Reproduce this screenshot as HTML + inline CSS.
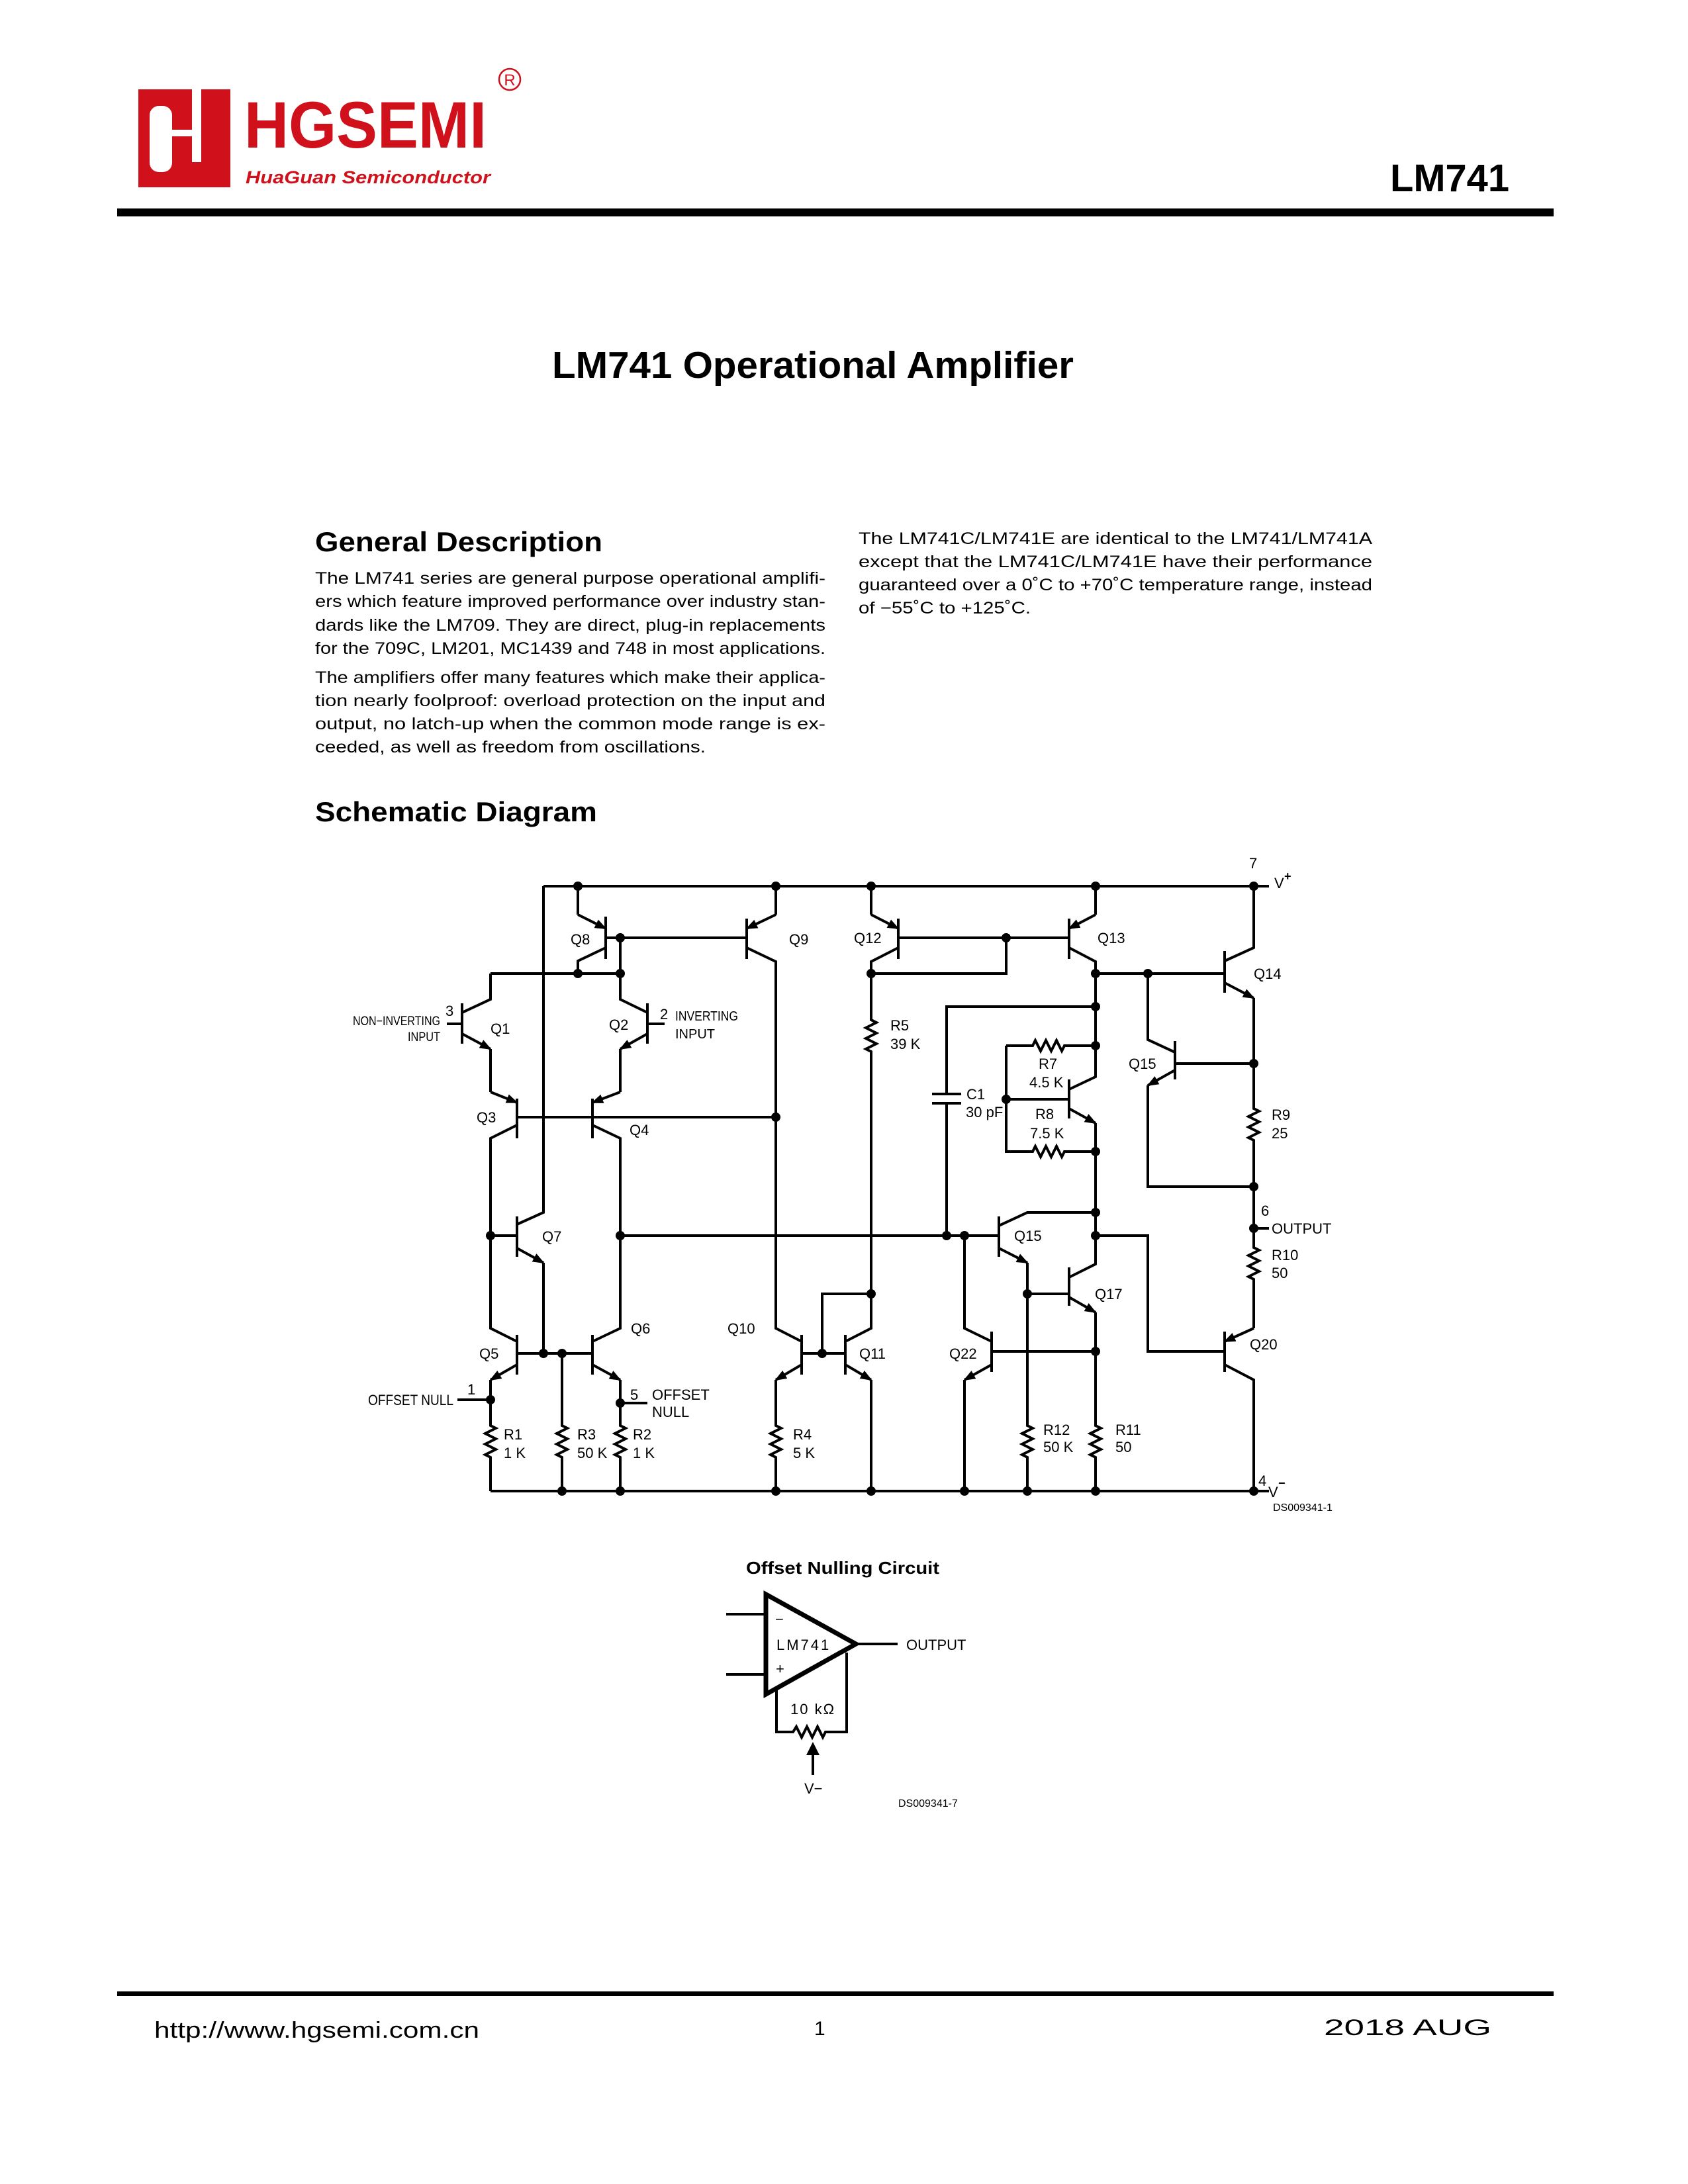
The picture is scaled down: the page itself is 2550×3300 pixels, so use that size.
<!DOCTYPE html>
<html><head><meta charset="utf-8"><style>
html,body{margin:0;padding:0;background:#fff;}
svg{display:block;}
</style></head><body>
<svg xmlns="http://www.w3.org/2000/svg" width="2550" height="3300" viewBox="0 0 2550 3300" font-family="Liberation Sans, Arial, sans-serif">
<defs>
<marker id="a" markerWidth="18" markerHeight="14" refX="16" refY="7" orient="auto" markerUnits="userSpaceOnUse"><path d="M0 0L18 7L0 14z" fill="#000"/></marker>
</defs>
<rect width="2550" height="3300" fill="#fff"/>

<!-- Header -->
<rect x="209" y="135" width="139" height="148" fill="#d0101a"/>
<rect x="226" y="160" width="34" height="100" rx="14" fill="#fff"/>
<rect x="260" y="160" width="22" height="100" fill="#d0101a"/>
<rect x="290" y="135" width="14" height="110" fill="#fff"/>
<rect x="245" y="196" width="50" height="10" fill="#fff"/>
<text x="369" y="223" font-size="99" font-weight="bold" fill="#d0101a" textLength="366" lengthAdjust="spacingAndGlyphs">HGSEMI</text>
<text x="371" y="277" font-size="27" font-weight="bold" font-style="italic" fill="#d0101a" textLength="370" lengthAdjust="spacingAndGlyphs">HuaGuan Semiconductor</text>
<circle cx="770" cy="120" r="16" fill="none" stroke="#d0101a" stroke-width="2.5"/>
<text x="770" y="129" font-size="24" fill="#d0101a" text-anchor="middle">R</text>
<text x="2100" y="289" font-size="58" font-weight="bold" textLength="180" lengthAdjust="spacingAndGlyphs">LM741</text>
<rect x="177" y="315" width="2170" height="12" fill="#000"/>

<text x="834" y="571" font-size="57" font-weight="bold" textLength="788" lengthAdjust="spacingAndGlyphs">LM741 Operational Amplifier</text>

<text x="476" y="833" font-size="42" font-weight="bold" textLength="434" lengthAdjust="spacingAndGlyphs">General Description</text>
<g font-size="25">
<text x="476" y="882" textLength="771" lengthAdjust="spacingAndGlyphs">The LM741 series are general purpose operational amplifi-</text>
<text x="476" y="917" textLength="771" lengthAdjust="spacingAndGlyphs">ers which feature improved performance over industry stan-</text>
<text x="476" y="953" textLength="771" lengthAdjust="spacingAndGlyphs">dards like the LM709. They are direct, plug-in replacements</text>
<text x="476" y="988" textLength="771" lengthAdjust="spacingAndGlyphs">for the 709C, LM201, MC1439 and 748 in most applications.</text>
<text x="476" y="1032" textLength="771" lengthAdjust="spacingAndGlyphs">The amplifiers offer many features which make their applica-</text>
<text x="476" y="1067" textLength="771" lengthAdjust="spacingAndGlyphs">tion nearly foolproof: overload protection on the input and</text>
<text x="476" y="1102" textLength="771" lengthAdjust="spacingAndGlyphs">output, no latch-up when the common mode range is ex-</text>
<text x="476" y="1137" textLength="590" lengthAdjust="spacingAndGlyphs">ceeded, as well as freedom from oscillations.</text>
<text x="1297" y="822" textLength="776" lengthAdjust="spacingAndGlyphs">The LM741C/LM741E are identical to the LM741/LM741A</text>
<text x="1297" y="857" textLength="776" lengthAdjust="spacingAndGlyphs">except that the LM741C/LM741E have their performance</text>
<text x="1297" y="892" textLength="776" lengthAdjust="spacingAndGlyphs">guaranteed over a 0˚C to +70˚C temperature range, instead</text>
<text x="1297" y="927" textLength="260" lengthAdjust="spacingAndGlyphs">of −55˚C to +125˚C.</text>
</g>
<text x="476" y="1241" font-size="42" font-weight="bold" textLength="426" lengthAdjust="spacingAndGlyphs">Schematic Diagram</text>

<!-- Schematic -->
<g fill="none" stroke="#000" stroke-width="4" stroke-linejoin="miter">
<path d="M821 1339H1917"/>
<path d="M821 1339V1832L781 1850"/>
<path d="M781 1838V1899"/>
<path d="M781 1886L821 1908" marker-end="url(#a)"/>
<path d="M821 1908V2045"/>
<path d="M741 1867H781"/>
<!-- Q8 -->
<path d="M873 1339V1382"/><path d="M873 1382L915 1403" marker-end="url(#a)"/>
<path d="M915 1385V1449"/><path d="M915 1432L873 1452V1471"/>
<path d="M915 1417H1128"/><path d="M937 1417V1471"/><path d="M741 1471H937"/>
<!-- Q9 -->
<path d="M1128 1388V1449"/><path d="M1172 1339V1382"/><path d="M1172 1382L1128 1403" marker-end="url(#a)"/>
<path d="M1128 1432L1172 1453V2007L1211 2027"/>
<!-- Q1 -->
<path d="M698 1516V1577"/><path d="M675 1547H698"/><path d="M698 1530L741 1510V1471"/>
<path d="M698 1562L741 1585" marker-end="url(#a)"/><path d="M741 1585V1650"/>
<path d="M741 1650L781 1666" marker-end="url(#a)"/>
<!-- Q3 -->
<path d="M781 1660V1720"/><path d="M781 1700L741 1720V2007L781 2027"/>
<path d="M781 1688H1172"/>
<!-- Q2 -->
<path d="M978 1516V1577"/><path d="M978 1547H1004"/><path d="M978 1530L937 1510V1471"/>
<path d="M978 1562L937 1585" marker-end="url(#a)"/><path d="M937 1585V1650"/>
<path d="M937 1650L895 1666" marker-end="url(#a)"/>
<!-- Q4 -->
<path d="M895 1660V1720"/><path d="M895 1700L937 1720V2007L895 2027"/>
<path d="M937 1867H1509"/>
<!-- Q5 -->
<path d="M781 2017V2077"/><path d="M781 2062L741 2085" marker-end="url(#a)"/>
<path d="M741 2085V2154l8 4l-16 8l16 8l-16 8l16 8l-16 8l8 4V2253"/>
<path d="M781 2045H895"/>
<path d="M849 2045V2154l8 4l-16 8l16 8l-16 8l16 8l-16 8l8 4V2253"/>
<!-- Q6 -->
<path d="M895 2017V2077"/><path d="M895 2062L937 2085" marker-end="url(#a)"/>
<path d="M937 2085V2154l8 4l-16 8l16 8l-16 8l16 8l-16 8l8 4V2253"/>
<path d="M691 2115H741"/><path d="M937 2120H978"/>
<path d="M741 2253H1917"/>
<!-- Q10 -->
<path d="M1211 2017V2077"/><path d="M1211 2062L1172 2085" marker-end="url(#a)"/>
<path d="M1172 2085V2154l8 4l-16 8l16 8l-16 8l16 8l-16 8l8 4V2253"/>
<path d="M1211 2045H1277"/><path d="M1242 2045V1955H1316"/>
<!-- Q11 -->
<path d="M1277 2017V2077"/>
<path d="M1277 2027L1316 2007V1589l-8 -4l16 -8l-16 -8l16 -8l-16 -8l16 -8l-8 -4V1471"/>
<path d="M1277 2062L1316 2085" marker-end="url(#a)"/><path d="M1316 2085V2253"/>
<!-- Q12 -->
<path d="M1316 1339V1382"/><path d="M1316 1382L1357 1403" marker-end="url(#a)"/>
<path d="M1357 1388V1449"/><path d="M1357 1432L1316 1453V1471"/>
<path d="M1357 1417H1615"/><path d="M1520 1417V1471H1316"/>
<!-- Q13 -->
<path d="M1655 1339V1382"/><path d="M1655 1382L1615 1403" marker-end="url(#a)"/>
<path d="M1615 1388V1449"/><path d="M1615 1432L1655 1453V1627L1615 1646"/>
<path d="M1655 1471H1850"/>
<!-- C1 -->
<path d="M1655 1521H1430V1653"/><path d="M1408 1653H1452M1408 1667H1452"/><path d="M1430 1667V1867"/>
<!-- R7 R8 Q16 -->
<path d="M1520 1580H1560l4 -8l8 16l8 -16l8 16l8 -16l8 16l4 -8H1655"/>
<path d="M1520 1580V1740H1560l4 -8l8 16l8 -16l8 16l8 -16l8 16l4 -8H1655"/>
<path d="M1520 1661H1615"/>
<path d="M1615 1631V1690"/><path d="M1615 1675L1655 1697" marker-end="url(#a)"/>
<path d="M1655 1697V1910L1615 1930"/>
<!-- Q15 lower -->
<path d="M1509 1838V1899"/><path d="M1509 1852L1552 1832H1655"/>
<path d="M1509 1886L1552 1908" marker-end="url(#a)"/>
<path d="M1552 1908V2154l8 4l-16 8l16 8l-16 8l16 8l-16 8l8 4V2253"/>
<path d="M1552 1955H1615"/>
<!-- Q17 -->
<path d="M1615 1915V1973"/><path d="M1615 1960L1655 1983" marker-end="url(#a)"/>
<path d="M1655 1983V2154l8 4l-16 8l16 8l-16 8l16 8l-16 8l8 4V2253"/>
<path d="M1655 1867H1734V2042H1850"/>
<!-- Q22 -->
<path d="M1457 1867V2007L1498 2027"/><path d="M1498 2012V2073"/>
<path d="M1498 2062L1457 2085" marker-end="url(#a)"/><path d="M1457 2085V2253"/>
<path d="M1498 2042H1655"/>
<!-- Q14 -->
<path d="M1850 1437V1500"/><path d="M1850 1452L1894 1432V1339"/>
<path d="M1850 1485L1894 1508" marker-end="url(#a)"/>
<path d="M1894 1508V1675l8 4l-16 8l16 8l-16 8l16 8l-16 8l8 4V1885l8 4l-16 8l16 8l-16 8l16 8l-16 8l8 4V2007"/>
<path d="M1894 2007L1850 2027" marker-end="url(#a)"/>
<!-- Q15 upper -->
<path d="M1894 1607H1775"/><path d="M1775 1573V1631"/>
<path d="M1775 1590L1734 1571V1471"/>
<path d="M1775 1617L1734 1640" marker-end="url(#a)"/><path d="M1734 1640V1793H1894"/>
<path d="M1894 1856H1917"/>
<!-- Q20 -->
<path d="M1850 2012V2073"/><path d="M1850 2062L1894 2085V2253"/>
</g>
<g fill="#000">
<circle cx="873" cy="1339" r="7"/><circle cx="1172" cy="1339" r="7"/><circle cx="1316" cy="1339" r="7"/><circle cx="1655" cy="1339" r="7"/><circle cx="1894" cy="1339" r="7"/>
<circle cx="937" cy="1417" r="7"/><circle cx="873" cy="1471" r="7"/><circle cx="937" cy="1471" r="7"/>
<circle cx="1172" cy="1688" r="7"/>
<circle cx="741" cy="1867" r="7"/><circle cx="937" cy="1867" r="7"/><circle cx="1430" cy="1867" r="7"/><circle cx="1457" cy="1867" r="7"/>
<circle cx="821" cy="2045" r="7"/><circle cx="849" cy="2045" r="7"/>
<circle cx="741" cy="2115" r="7"/><circle cx="937" cy="2120" r="7"/>
<circle cx="849" cy="2253" r="7"/><circle cx="937" cy="2253" r="7"/><circle cx="1172" cy="2253" r="7"/><circle cx="1316" cy="2253" r="7"/><circle cx="1457" cy="2253" r="7"/><circle cx="1552" cy="2253" r="7"/><circle cx="1655" cy="2253" r="7"/><circle cx="1894" cy="2253" r="7"/>
<circle cx="1242" cy="2045" r="7"/><circle cx="1316" cy="1955" r="7"/>
<circle cx="1316" cy="1471" r="7"/><circle cx="1520" cy="1417" r="7"/><circle cx="1655" cy="1471" r="7"/><circle cx="1734" cy="1471" r="7"/>
<circle cx="1655" cy="1521" r="7"/><circle cx="1655" cy="1580" r="7"/><circle cx="1520" cy="1661" r="7"/><circle cx="1655" cy="1740" r="7"/>
<circle cx="1894" cy="1607" r="7"/><circle cx="1894" cy="1793" r="7"/><circle cx="1894" cy="1856" r="7"/>
<circle cx="1655" cy="1832" r="7"/><circle cx="1655" cy="1867" r="7"/><circle cx="1552" cy="1955" r="7"/><circle cx="1655" cy="2042" r="7"/>
</g>
<g font-size="22" fill="#000">
<text x="862" y="1427">Q8</text><text x="1192" y="1427">Q9</text><text x="1290" y="1425">Q12</text><text x="1658" y="1425">Q13</text><text x="1894" y="1479">Q14</text>
<text x="741" y="1562">Q1</text><text x="920" y="1556">Q2</text><text x="720" y="1696">Q3</text><text x="951" y="1715">Q4</text>
<text x="819" y="1876">Q7</text><text x="1705" y="1615">Q15</text><text x="1532" y="1875">Q15</text><text x="1654" y="1963">Q17</text>
<text x="953" y="2015">Q6</text><text x="724" y="2053">Q5</text><text x="1099" y="2015">Q10</text><text x="1298" y="2053">Q11</text><text x="1434" y="2053">Q22</text><text x="1888" y="2039">Q20</text>
<text x="1345" y="1557">R5</text><text x="1345" y="1585">39 K</text>
<text x="1569" y="1615">R7</text><text x="1555" y="1643">4.5 K</text>
<text x="1564" y="1691">R8</text><text x="1556" y="1720">7.5 K</text>
<text x="1460" y="1661">C1</text><text x="1459" y="1688">30 pF</text>
<text x="1921" y="1692">R9</text><text x="1921" y="1720">25</text>
<text x="1905" y="1837">6</text><text x="1921" y="1864">OUTPUT</text>
<text x="1921" y="1904">R10</text><text x="1921" y="1931">50</text>
<text x="1576" y="2168">R12</text><text x="1576" y="2194">50 K</text>
<text x="1685" y="2168">R11</text><text x="1685" y="2194">50</text>
<text x="761" y="2175">R1</text><text x="761" y="2203">1 K</text>
<text x="872" y="2175">R3</text><text x="872" y="2203">50 K</text>
<text x="956" y="2175">R2</text><text x="956" y="2203">1 K</text>
<text x="1198" y="2175">R4</text><text x="1198" y="2203">5 K</text>
<text x="706" y="2107">1</text>
<text x="556" y="2123" textLength="129" lengthAdjust="spacingAndGlyphs">OFFSET NULL</text>
<text x="952" y="2115">5</text><text x="985" y="2115">OFFSET</text><text x="985" y="2141">NULL</text>
<text x="673" y="1535">3</text>
<text x="533" y="1549" font-size="19" textLength="132" lengthAdjust="spacingAndGlyphs">NON−INVERTING</text>
<text x="616" y="1573" font-size="19" textLength="49" lengthAdjust="spacingAndGlyphs">INPUT</text>
<text x="997" y="1540">2</text>
<text x="1020" y="1542" font-size="20" textLength="95" lengthAdjust="spacingAndGlyphs">INVERTING</text>
<text x="1020" y="1569" font-size="20">INPUT</text>
<text x="1887" y="1312">7</text><text x="1925" y="1342">V</text><text x="1940" y="1330" font-size="18" font-weight="bold">+</text>
<text x="1901" y="2245">4</text><text x="1916" y="2262">V</text><text x="1931" y="2247" font-size="18" font-weight="bold">−</text>
<text x="1923" y="2283" font-size="16">DS009341-1</text>
</g>

<!-- Offset nulling -->
<text x="1127" y="2378" font-size="26" font-weight="bold" textLength="292" lengthAdjust="spacingAndGlyphs">Offset Nulling Circuit</text>
<g fill="none" stroke="#000">
<path d="M1157 2409L1293 2484L1157 2560Z" stroke-width="7" stroke-linejoin="miter"/>
<path d="M1097 2439H1154M1097 2530H1154M1295 2484H1356" stroke-width="4"/>
<path d="M1173 2553V2617H1198l5 -8l8 16l8 -16l8 16l8 -16l8 16l4 -8H1279V2497" stroke-width="4"/>
<path d="M1228 2682V2650" stroke-width="4"/>
</g>
<path d="M1228 2632L1218 2652H1238Z" fill="#000"/>
<g font-size="22" fill="#000">
<text x="1171" y="2454">−</text>
<text x="1172" y="2529">+</text>
<text x="1173" y="2493" letter-spacing="3">LM741</text>
<text x="1194" y="2590" letter-spacing="2">10 kΩ</text>
<text x="1369" y="2493">OUTPUT</text>
<text x="1215" y="2710">V−</text>
<text x="1357" y="2730" font-size="16">DS009341-7</text>
</g>

<!-- Footer -->
<rect x="177" y="3009" width="2170" height="7" fill="#000"/>
<g font-size="34" fill="#000">
<text x="233" y="3079" textLength="491" lengthAdjust="spacingAndGlyphs">http://www.hgsemi.com.cn</text>
<text x="1230" y="3075" font-size="30">1</text>
<text x="2000" y="3075" textLength="253" lengthAdjust="spacingAndGlyphs">2018 AUG</text>
</g>
</svg>
</body></html>
